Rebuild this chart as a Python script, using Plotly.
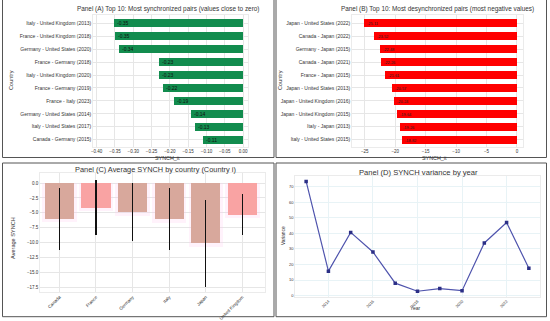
import plotly.graph_objects as go

# ---------------- data ----------------
sync_pairs = ["Italy - United Kingdom (2013)", "France - United Kingdom (2018)",
              "Germany - United States (2020)", "France - Germany (2018)",
              "Italy - United Kingdom (2020)", "France - Germany (2019)",
              "France - Italy (2023)", "Germany - United States (2014)",
              "Italy - United States (2017)", "Canada - Germany (2015)"]
sync_vals = [-0.352, -0.350, -0.339, -0.229, -0.229, -0.220, -0.190, -0.141, -0.131, -0.110]

desync_pairs = ["Japan - United States (2022)", "Canada - Japan (2022)",
                "Germany - Japan (2015)", "Canada - Japan (2021)",
                "France - Japan (2015)", "Japan - United States (2013)",
                "Japan - United Kingdom (2016)", "Japan - United Kingdom (2015)",
                "Italy - Japan (2013)", "Italy - United States (2015)"]
desync_vals = [-25.11, -23.52, -22.48, -22.26, -21.61, -20.57, -20.24, -19.64, -19.26, -18.82]

countries = ["Canada", "France", "Germany", "Italy", "Japan", "United Kingdom"]
country_mean = [-6.0, -4.1, -4.9, -6.1, -10.1, -5.3]
country_err = [5.2, 4.7, 4.9, 5.2, 7.3, 3.4]

years = [2013, 2014, 2015, 2016, 2017, 2018, 2019, 2020, 2021, 2022, 2023]
variance = [73.3, 15.7, 40.6, 28.0, 8.0, 2.8, 4.5, 3.2, 33.8, 46.9, 17.6]

# ---------------- helpers ----------------
W, H = 550, 321
def px_x(p):
    return p / W
def px_y(p):
    return 1 - p / H

FONT = "Liberation Sans, Arial, sans-serif"
TXT = "#333333"
GRID = "#e6e6e6"

fig = go.Figure()

# Panel A
fig.add_trace(go.Bar(
    x=sync_vals, y=sync_pairs, orientation="h", width=0.62,
    marker=dict(color="#128c4e", line=dict(width=0)),
    text=[f"{v:.2f}" for v in sync_vals], textposition="inside",
    insidetextanchor="end", textangle=0, constraintext="none",
    textfont=dict(size=5, color="#111111", family=FONT),
    xaxis="x", yaxis="y", showlegend=False))

# Panel B
fig.add_trace(go.Bar(
    x=desync_vals, y=desync_pairs, orientation="h", width=0.62,
    marker=dict(color="#ff0000", line=dict(width=0)),
    text=[f"{v:.2f}" for v in desync_vals], textposition="inside",
    insidetextanchor="end", textangle=0, constraintext="none",
    textfont=dict(size=4, color="#222222", family=FONT),
    xaxis="x2", yaxis="y2", showlegend=False))

# Panel C halo + bars
fig.add_trace(go.Bar(
    x=countries, y=[m - 0.6 for m in country_mean], width=0.94,
    marker=dict(color="rgba(255,205,240,0.25)", line=dict(width=0)),
    xaxis="x3", yaxis="y3", showlegend=False, hoverinfo="skip"))
bar_cols = ["#d8a89c", "#f9a3a3", "#d8a89c", "#d8a89c", "#d8a89c", "#f9a3a3"]
fig.add_trace(go.Bar(
    x=countries, y=country_mean, width=0.8,
    marker=dict(color=bar_cols, line=dict(width=0)),
    error_y=dict(type="data", array=country_err, visible=True,
                 color="#111111", thickness=1.3, width=0),
    xaxis="x3", yaxis="y3", showlegend=False))

# Panel D
fig.add_trace(go.Scatter(
    x=years, y=variance, mode="lines+markers",
    line=dict(color="#4f54ad", width=1.2),
    marker=dict(color="#2b2f86", size=3.5, symbol="square"),
    xaxis="x4", yaxis="y4", showlegend=False))

tick_small = dict(size=5, color=TXT, family=FONT)
ax_common = dict(showgrid=True, gridcolor=GRID, gridwidth=0.6, zeroline=False,
                 showline=True, linecolor="#ebebeb", linewidth=0.6, mirror=True,
                 ticks="", ticklen=0, automargin=False)

fig.update_layout(
    width=W, height=H, margin=dict(l=0, r=0, t=0, b=0, autoexpand=False),
    paper_bgcolor="white", plot_bgcolor="white",
    barmode="overlay", bargap=0,
    font=dict(family=FONT, color=TXT),
    xaxis=dict(domain=[px_x(93), px_x(248)], anchor="y", range=[-0.41, 0.0135],
               tickvals=[-0.40, -0.35, -0.30, -0.25, -0.20, -0.15, -0.10, -0.05, 0.0],
               tickformat=".2f", tickfont=dict(size=4.5, color=TXT, family=FONT), **ax_common),
    yaxis=dict(domain=[px_y(147), px_y(15)], anchor="x", type="category",
               categoryorder="array", categoryarray=sync_pairs, range=[9.57, -0.65],
               tickfont=tick_small, **ax_common),
    xaxis2=dict(domain=[px_x(352), px_x(523)], anchor="y2", range=[-27.1, 1.0],
                tickvals=[-25, -20, -15, -10, -5, 0],
                tickfont=dict(size=4.5, color=TXT, family=FONT), **ax_common),
    yaxis2=dict(domain=[px_y(147), px_y(15)], anchor="x2", type="category",
                categoryorder="array", categoryarray=desync_pairs, range=[9.57, -0.65],
                tickfont=tick_small, **ax_common),
    xaxis3=dict(domain=[px_x(40), px_x(265)], anchor="y3", type="category",
                categoryorder="array", categoryarray=countries, range=[-0.53, 5.62],
                tickangle=-45, tickfont=dict(size=4.5, color=TXT, family=FONT), **ax_common),
    yaxis3=dict(domain=[px_y(292), px_y(173)], anchor="x3", range=[-18.3, 1.7],
                tickvals=[0, -2.5, -5, -7.5, -10, -12.5, -15, -17.5], tickformat=".1f",
                tickfont=dict(size=4.5, color=TXT, family=FONT), **ax_common),
    xaxis4=dict(domain=[px_x(295), px_x(540)], anchor="y4", range=[2012.5, 2023.5],
                tickvals=[2014, 2016, 2018, 2020, 2022], tickangle=-45,
                tickfont=dict(size=4, color=TXT, family=FONT),
                **{**ax_common, "gridcolor": "#e8f3f6"}),
    yaxis4=dict(domain=[px_y(296.7), px_y(176)], anchor="x4", range=[-0.7, 76.8],
                tickvals=[0, 10, 20, 30, 40, 50, 60, 70],
                tickfont=dict(size=4, color=TXT, family=FONT),
                **{**ax_common, "gridcolor": "#e8f3f6"}),
)

def ann(text, x, y, size, angle=0):
    fig.add_annotation(text=text, x=px_x(x), y=px_y(y), xref="paper", yref="paper",
                       showarrow=False, textangle=angle, xanchor="center", yanchor="middle",
                       font=dict(size=size, color=TXT, family=FONT))

# titles
ann("Panel (A) Top 10: Most synchronized pairs (values close to zero)", 168, 9, 6.4)
ann("Panel (B) Top 10: Most desynchronized pairs (most negative values)", 437, 9, 6.4)
ann("Panel (C) Average SYNCH by country (Country i)", 155, 170, 7.4)
ann("Panel (D) SYNCH variance by year", 418, 173, 7.6)
# axis titles
ann("SYNCH_it", 167, 157.5, 5.4)
ann("Country", 11, 80, 5.6, -90)
ann("SYNCH_it", 434, 157.5, 5.4)
ann("Country", 280, 80, 5.6, -90)
ann("Average SYNCH", 13, 238, 5.6, -90)
ann("Year", 415, 308, 5)
ann("Variance", 283, 236, 4.8, -90)

# panel frames
frame = dict(color="#555555", width=1)
for x0, y0, x1, y1 in [(2.5, -2, 274, 157.5), (276, -2, 546.5, 157.5),
                       (2.5, 163, 274, 316.7), (276, 163, 546.5, 316.7)]:
    fig.add_shape(type="rect", xref="paper", yref="paper",
                  x0=px_x(x0), x1=px_x(x1), y0=px_y(y1), y1=px_y(y0),
                  line=frame, fillcolor="rgba(0,0,0,0)", layer="below")

fig.write_html("out.html", config={"displayModeBar": False},
               post_script="document.body.style.margin='0';document.body.style.overflow='hidden';")
